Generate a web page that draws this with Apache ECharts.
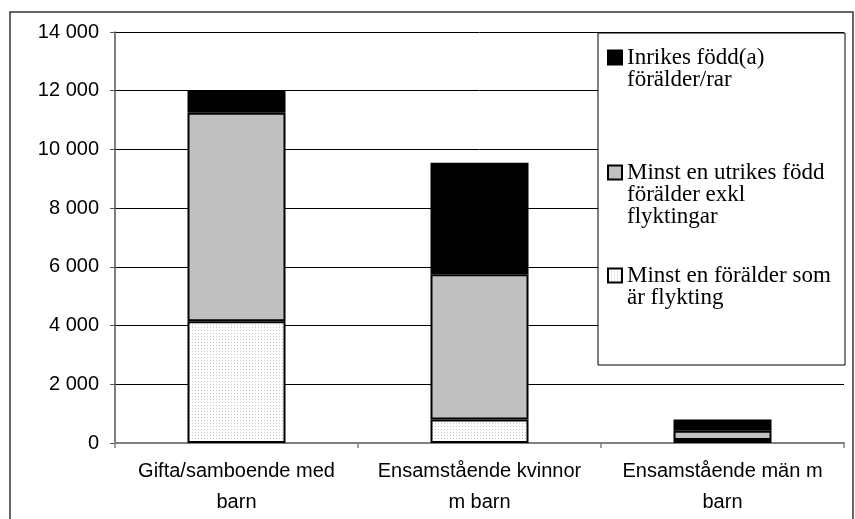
<!DOCTYPE html>
<html>
<head>
<meta charset="utf-8">
<script src="https://cdn.jsdelivr.net/npm/echarts@6/dist/echarts.min.js"></script>
<style>
html, body { margin: 0; padding: 0; background: #fff; }
#main { width: 855px; height: 519px; }
</style>
</head>
<body>
<div id="main"></div>
<script>
// kategorier och värden (antal barn)
var categories = ['Gifta/samboende med\nbarn', 'Ensamstående kvinnor\nm barn', 'Ensamstående män m\nbarn'];
var flykting = [4150, 800, 100];
var utrikes = [7100, 4950, 320];
var inrikes = [750, 3800, 380];

var nameInrikes = 'Inrikes född(a)\nförälder/rar';
var nameUtrikes = 'Minst en utrikes född\nförälder exkl\nflyktingar';
var nameFlykting = 'Minst en förälder som\när flykting';

// prickigt mönster för flyktingar
var dot = document.createElement('canvas');
dot.width = 3;
dot.height = 3;
var ctx = dot.getContext('2d');
ctx.fillStyle = '#ffffff';
ctx.fillRect(0, 0, 3, 3);
ctx.fillStyle = '#c4c4c4';
ctx.fillRect(0, 0, 1, 1);
var dotted = { image: dot, repeat: 'repeat' };

var serif = '"Liberation Serif", "Times New Roman", serif';
var sans = '"Liberation Sans", Arial, sans-serif';

// en legend per post, ikonen i höjd med första raden
function legendItem(name, top, lines) {
    return {
        left: 607,
        top: top,
        padding: 0,
        itemWidth: 14,
        itemHeight: 14,
        icon: 'rect',
        selectedMode: false,
        data: [name],
        formatter: function (n) {
            return new Array(lines).join('\n') + n;
        },
        textStyle: {
            fontFamily: serif,
            fontSize: 23,
            lineHeight: 22,
            color: '#000'
        }
    };
}

var chart = echarts.init(document.getElementById('main'));
chart.setOption({
    animation: false,
    grid: { left: 115, top: 32, right: 11, bottom: 76 },
    graphic: [
        {
            type: 'rect',
            z: 0,
            shape: { x: 10, y: 12, width: 843, height: 520 },
            style: { fill: 'none', stroke: '#333', lineWidth: 1.5 }
        },
        {
            type: 'rect',
            z: 3,
            shape: { x: 598, y: 33, width: 247, height: 332 },
            style: { fill: '#fff', stroke: '#000', lineWidth: 1 }
        }
    ],
    legend: [
        legendItem(nameInrikes, 24, 2),
        legendItem(nameUtrikes, 117, 3),
        legendItem(nameFlykting, 242, 2)
    ],
    xAxis: {
        type: 'category',
        data: categories,
        axisLine: { lineStyle: { color: '#808080', width: 2 } },
        axisTick: { show: true, length: 5, lineStyle: { color: '#808080', width: 1.5 } },
        axisLabel: {
            margin: 13,
            fontFamily: sans,
            fontSize: 20,
            lineHeight: 31,
            color: '#000',
            interval: 0
        }
    },
    yAxis: {
        type: 'value',
        min: 0,
        max: 14000,
        interval: 2000,
        axisLine: { show: true, lineStyle: { color: '#555', width: 1.5 } },
        axisTick: { show: true, length: 5, lineStyle: { color: '#555' } },
        splitLine: { lineStyle: { color: '#000', width: 1 } },
        axisLabel: {
            margin: 16,
            fontFamily: sans,
            fontSize: 20,
            color: '#000',
            formatter: function (v) {
                return String(v).replace(/\B(?=(\d{3})+(?!\d))/g, ' ');
            }
        }
    },
    series: [
        {
            name: nameFlykting,
            type: 'bar',
            stack: 'barn',
            barWidth: 98,
            data: flykting,
            itemStyle: { color: dotted, borderColor: '#000', borderWidth: 2 }
        },
        {
            name: nameUtrikes,
            type: 'bar',
            stack: 'barn',
            data: utrikes,
            itemStyle: { color: '#c0c0c0', borderColor: '#000', borderWidth: 2 }
        },
        {
            name: nameInrikes,
            type: 'bar',
            stack: 'barn',
            data: inrikes,
            itemStyle: { color: '#000', borderColor: '#000', borderWidth: 2 }
        }
    ]
});
</script>
</body>
</html>
